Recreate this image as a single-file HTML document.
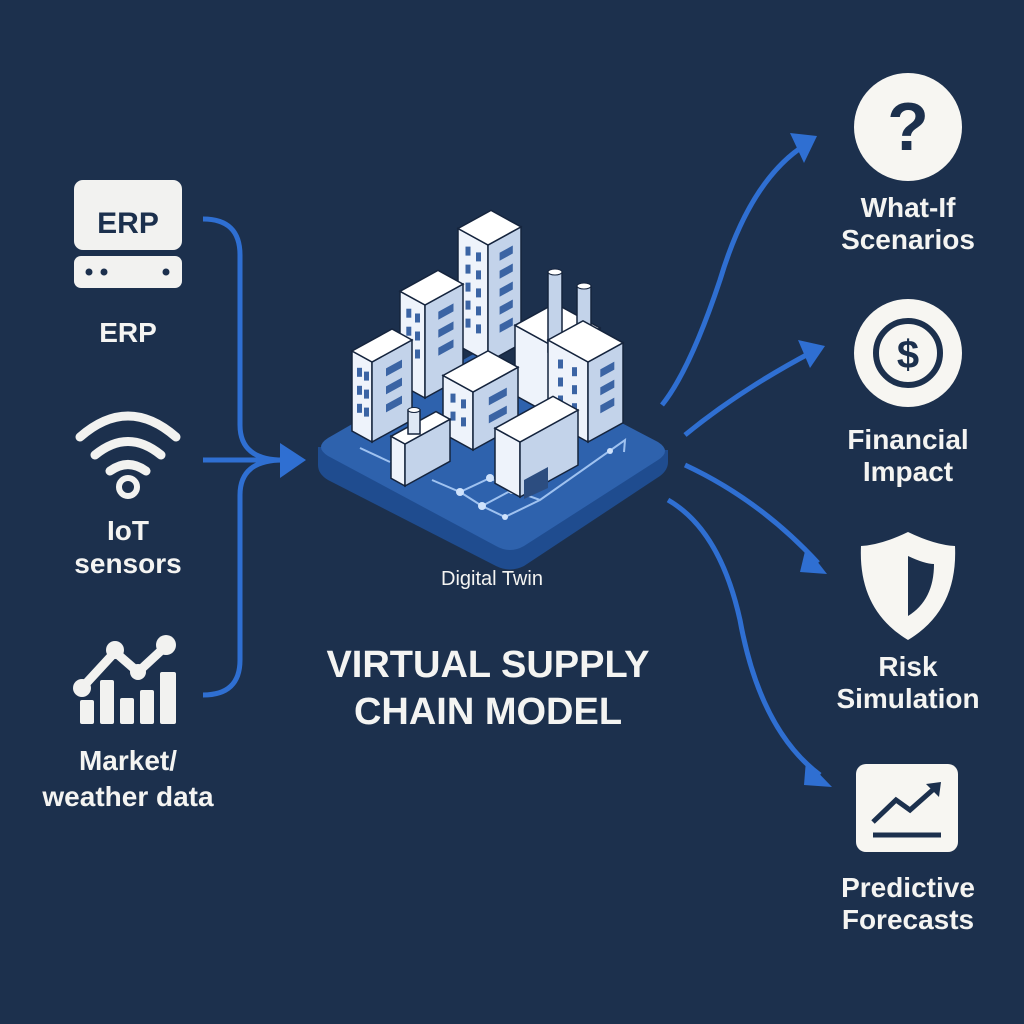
<!DOCTYPE html>
<html><head><meta charset="utf-8"><style>
html,body{margin:0;padding:0;background:#1c304d;}
svg{display:block}
text{font-family:"Liberation Sans",sans-serif;fill:#f4f4f2;font-weight:bold;text-anchor:middle}
</style></head><body>
<svg id="s" width="1024" height="1024" viewBox="0 0 1024 1024" xmlns="http://www.w3.org/2000/svg">
<rect width="1024" height="1024" fill="#1c304d"/>
<!-- left inputs -->
<rect x="74" y="180" width="108" height="70" rx="9" fill="#f2f2f0"/>
<text x="128" y="233" font-size="30" style="fill:#1c304d">ERP</text>
<rect x="74" y="256" width="108" height="32" rx="7" fill="#f2f2f0"/>
<circle cx="89" cy="272" r="3.5" fill="#1c304d"/><circle cx="104" cy="272" r="3.5" fill="#1c304d"/><circle cx="166" cy="272" r="3.5" fill="#1c304d"/>
<text x="128" y="342" font-size="28">ERP</text>
<g fill="none" stroke="#f2f2f0" stroke-width="9" stroke-linecap="round">
<path d="M80 437 Q128 395 176 437"/><path d="M95 455 Q128 428 161 455"/><path d="M110 471 Q128 458 146 471"/>
</g>
<circle cx="128" cy="487" r="9" fill="none" stroke="#f2f2f0" stroke-width="6"/>
<text x="128" y="540" font-size="28">IoT</text>
<text x="128" y="573" font-size="28">sensors</text>
<path d="M80 690 L115 652 L138 672 L165 647" fill="none" stroke="#f2f2f0" stroke-width="9" stroke-linejoin="round"/>
<circle cx="82" cy="688" r="9" fill="#f2f2f0"/><circle cx="115" cy="650" r="9" fill="#f2f2f0"/><circle cx="138" cy="672" r="8" fill="#f2f2f0"/><circle cx="166" cy="645" r="10" fill="#f2f2f0"/>
<g fill="#f2f2f0"><rect x="80" y="700" width="14" height="24" rx="2"/><rect x="100" y="680" width="14" height="44" rx="2"/><rect x="120" y="698" width="14" height="26" rx="2"/><rect x="140" y="690" width="14" height="34" rx="2"/><rect x="160" y="672" width="16" height="52" rx="2"/></g>
<text x="128" y="770" font-size="28">Market/</text>
<text x="128" y="806" font-size="28">weather data</text>
<!-- left arrows -->
<g fill="none" stroke="#2f6fd2" stroke-width="5">
<path d="M203 219 Q240 219 240 255 L240 425 Q240 460 283 460"/>
<path d="M203 460 L285 460"/>
<path d="M203 695 Q240 695 240 660 L240 495 Q240 460 283 460"/>
</g>
<polygon points="280,443 306,460 280,478" fill="#2f6fd2"/>
<!-- platform -->
<path d="M318 447 L318 465 Q318 474 328 480 L496 566 Q510 573 524 566 L660 476 Q668 470 668 462 L668 450 Z" fill="#1f4c8f"/>
<path d="M328 438 L470 356 Q482 349 494 356 L658 442 Q672 451 658 460 L524 546 Q510 554 496 546 L328 456 Q314 447 328 438 Z" fill="#2e62ad"/>
<g fill="none" stroke="#9fc2f0" stroke-width="2">
<path d="M360 448 L390 462 M432 480 L460 492 L490 478 L512 490 L482 506 L460 492 M512 490 L540 500 L625 440 L624 452"/>
<path d="M482 506 L505 517 L540 500"/>
</g>
<g fill="#cfe2fb"><circle cx="460" cy="492" r="4"/><circle cx="490" cy="478" r="4"/><circle cx="512" cy="490" r="4"/><circle cx="482" cy="506" r="4"/><circle cx="505" cy="517" r="3"/><circle cx="610" cy="451" r="3"/></g>
<g id="bld"></g>
<!-- center text -->
<text x="492" y="585" font-size="20" style="font-weight:normal">Digital Twin</text>
<text x="488" y="677" font-size="38">VIRTUAL SUPPLY</text>
<text x="488" y="724" font-size="38">CHAIN MODEL</text>
<!-- right arrows -->
<g fill="none" stroke="#2f6fd2" stroke-width="5">
<path d="M662 405 Q690 370 720 280 Q750 180 805 145"/>
<path d="M685 435 Q740 390 812 352"/>
<path d="M685 465 Q760 500 818 563"/>
<path d="M668 500 Q720 530 740 620 Q760 730 820 775"/>
</g>
<g fill="#2f6fd2">
<polygon points="790,133 817,136 804,163"/>
<polygon points="798,340 825,346 810,368"/>
<polygon points="806,547 827,574 800,572"/>
<polygon points="806,760 832,787 804,785"/>
</g>
<!-- right icons -->
<circle cx="908" cy="127" r="54" fill="#f7f6f2"/>
<text x="908" y="150" font-size="68" style="fill:#1c304d;font-weight:900">?</text>
<text x="908" y="217" font-size="28">What-If</text>
<text x="908" y="249" font-size="28">Scenarios</text>
<circle cx="908" cy="353" r="54" fill="#f7f6f2"/>
<circle cx="908" cy="353" r="32" fill="none" stroke="#1c304d" stroke-width="6"/>
<text x="908" y="368" font-size="40" style="fill:#1c304d">$</text>
<text x="908" y="449" font-size="28">Financial</text>
<text x="908" y="481" font-size="28">Impact</text>
<path d="M908 532 Q935 545 955 546 Q958 610 908 640 Q858 610 861 546 Q881 545 908 532 Z" fill="#f7f6f2"/>
<path d="M908 556 Q925 564 934 564 Q934 600 908 616 Z" fill="#1c304d"/>
<text x="908" y="676" font-size="28">Risk</text>
<text x="908" y="708" font-size="28">Simulation</text>
<rect x="856" y="764" width="102" height="88" rx="10" fill="#f7f6f2"/>
<path d="M873 822 L896 800 L910 810 L936 787" fill="none" stroke="#1c304d" stroke-width="5"/>
<polygon points="926,784 941,782 939,797" fill="#1c304d"/>
<line x1="873" y1="835" x2="941" y2="835" stroke="#1c304d" stroke-width="5"/>
<text x="908" y="897" font-size="28">Predictive</text>
<text x="908" y="929" font-size="28">Forecasts</text>
</svg>
<script>
(function(){
var g=document.getElementById('bld');var out='';
function P(a){return a.map(function(p){return p[0].toFixed(1)+','+p[1].toFixed(1)}).join(' ')}
function box(cx,cy,wl,wr,h,win){
 var L=[cx-wl,cy-wl*0.55],R=[cx+wr,cy-wr*0.55];
 var c=[cx,cy],ch=[cx,cy-h],Lh=[L[0],L[1]-h],Rh=[R[0],R[1]-h],T=[L[0]+wr,L[1]-wr*0.55-h];
 out+='<polygon points="'+P([c,L,Lh,ch])+'" fill="#eef3fb" stroke="#15243d" stroke-width="1.5"/>';
 out+='<polygon points="'+P([c,R,Rh,ch])+'" fill="#c3d3ea" stroke="#15243d" stroke-width="1.5"/>';
 out+='<polygon points="'+P([ch,Lh,T,Rh])+'" fill="#ffffff" stroke="#15243d" stroke-width="1.5"/>';
 if(win){for(var r=0;r<win;r++){var yy=cy-h+14+r*18;if(yy>cy-14)break;
  for(var k=0;k<2;k++){var fx=cx-wl*0.75+k*wl*0.35;
   out+='<rect x="'+(fx).toFixed(1)+'" y="'+(yy-(cx-fx)*0.55).toFixed(1)+'" width="5" height="9" fill="#3b64a4"/>';}
  var rx=cx+wr*0.35;out+='<polygon points="'+P([[rx,yy-wr*0.19],[rx+wr*0.4,yy-wr*0.41],[rx+wr*0.4,yy-wr*0.41+8],[rx,yy-wr*0.19+8]])+'" fill="#3b64a4"/>';}}
}
box(488,362,30,33,117,6);
box(425,398,25,38,93,3);
box(372,442,20,40,80,3);
box(560,420,45,40,70,0);
out+='<rect x="548" y="272" width="14" height="80" fill="#c3d3ea" stroke="#15243d" stroke-width="1.5"/><ellipse cx="555" cy="272" rx="7" ry="3" fill="#fff" stroke="#15243d"/>';
out+='<rect x="577" y="286" width="14" height="78" fill="#c3d3ea" stroke="#15243d" stroke-width="1.5"/><ellipse cx="584" cy="286" rx="7" ry="3" fill="#fff" stroke="#15243d"/>';
box(588,442,40,35,80,3);
box(473,450,30,45,58,2);
box(405,486,14,45,42,0);
out+='<rect x="408" y="410" width="12" height="24" fill="#dfe8f5" stroke="#15243d" stroke-width="1.5"/><ellipse cx="414" cy="410" rx="6" ry="2.5" fill="#fff" stroke="#15243d"/>';
box(520,497,25,58,55,0);
out+='<polygon points="524,480 548,467 548,488 524,499" fill="#2c4d80"/>';
g.innerHTML=out;
})();
</script>
</body></html>
